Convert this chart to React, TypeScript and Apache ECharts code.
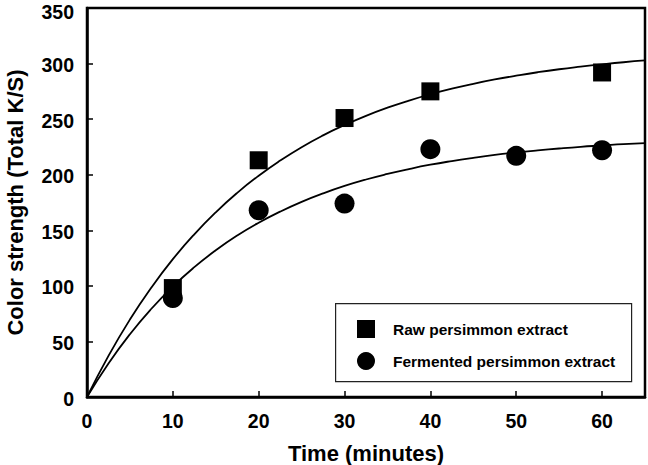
import React, { useEffect, useRef } from "react";
import * as echarts from "echarts";

// Measured color strength at each sampling time
const rawTime = [10, 20, 30, 40, 60];
const rawStrength = [98, 213, 251, 275, 292];
const fermTime = [10, 20, 30, 40, 50, 60];
const fermStrength = [89, 168, 174, 223, 217, 222];

// Fitted kinetic curves, sampled every 2.5 minutes
const fitTime = [
  0, 2.5, 5, 7.5, 10, 12.5, 15, 17.5, 20, 22.5, 25, 27.5, 30, 32.5, 35, 37.5, 40, 42.5, 45, 47.5, 50,
  52.5, 55, 57.5, 60, 62.5, 65,
];
const rawFit = [
  0, 37.0, 69.7, 98.5, 124.0, 146.4, 166.2, 183.7, 199.1, 212.7, 224.8, 235.4, 244.7, 253.0, 260.3,
  266.7, 272.4, 277.4, 281.8, 285.7, 289.1, 292.2, 294.9, 297.2, 299.3, 301.2, 302.8,
];
const fermFit = [
  0, 30.2, 56.5, 79.4, 99.4, 116.8, 132.0, 145.3, 156.8, 166.8, 175.6, 183.2, 189.9, 195.7, 200.7,
  205.1, 209.0, 212.3, 215.2, 217.8, 220.0, 221.9, 223.6, 225.1, 226.3, 227.5, 228.4,
];

const seriesNames = ["Raw persimmon extract", "Fermented persimmon extract"];
const xTitle = "Time (minutes)";
const yTitle = "Color strength (Total K/S)";
const yMax = 350;

const FONT = "'Liberation Sans', Arial, sans-serif";

const zip = (xs: number[], ys: number[]) => xs.map((x, i) => [x, ys[i]]);

export default function App() {
  const ref = useRef<HTMLDivElement>(null);

  useEffect(() => {
    if (!ref.current) return;
    const chart = echarts.init(ref.current, undefined, { renderer: "svg" });

    const labelFont = {
      color: "#000",
      fontFamily: FONT,
      fontWeight: "bold" as const,
      fontSize: 19.5,
    };

    const axisCommon = {
      axisLine: { show: true, lineStyle: { color: "#000", width: 2.5 } },
      axisTick: { show: true, inside: true, length: 6, lineStyle: { color: "#000", width: 1.5 } },
      splitLine: { show: false },
      axisLabel: { ...labelFont, lineHeight: 16 },
      nameLocation: "middle" as const,
      nameTextStyle: {
        color: "#000",
        fontFamily: FONT,
        fontWeight: "bold" as const,
        fontSize: 22,
        lineHeight: 20,
      },
    };

    chart.setOption({
      animation: false,
      backgroundColor: "#fff",
      grid: {
        left: 87,
        right: 3,
        top: 8,
        bottom: 68,
        outerBoundsMode: "none",
        containLabel: false,
        show: true,
        borderColor: "#000",
        borderWidth: 2.5,
        backgroundColor: "transparent",
      },
      xAxis: {
        type: "value",
        min: 0,
        max: 65,
        interval: 10,
        name: xTitle,
        nameGap: 46,
        ...axisCommon,
        axisLabel: {
          ...axisCommon.axisLabel,
          margin: 16,
          formatter: (v: number) => (v > 60 ? "" : String(v)),
        },
      },
      yAxis: {
        type: "value",
        min: 0,
        max: yMax,
        interval: 50,
        name: yTitle,
        nameGap: 62,
        ...axisCommon,
        axisLabel: {
          ...axisCommon.axisLabel,
          margin: 13,
          // keep the topmost label inside the canvas
          formatter: (v: number) => (v === yMax ? `{top|${v}}` : `{n|${v}}`),
          rich: {
            n: { ...labelFont, lineHeight: 16, padding: [3, 0, 0, 0] },
            top: { ...labelFont, lineHeight: 16, padding: [8, 0, 0, 0] },
          },
        },
      },
      legend: {
        orient: "vertical",
        left: 357,
        top: 320,
        padding: 0,
        itemWidth: 18,
        itemHeight: 18,
        itemGap: 14,
        data: seriesNames,
        textStyle: {
          color: "#000",
          fontFamily: FONT,
          fontWeight: "bold",
          fontSize: 15.5,
          padding: [0, 0, 0, 13],
        },
      },
      graphic: [
        {
          type: "rect",
          left: 335,
          top: 303,
          shape: { width: 296, height: 78 },
          style: { fill: "transparent", stroke: "#222", lineWidth: 1.2 },
          silent: true,
          z: 10,
        },
      ],
      series: [
        {
          name: "rawFit",
          type: "line",
          data: zip(fitTime, rawFit),
          smooth: true,
          showSymbol: false,
          lineStyle: { color: "#000", width: 1.8 },
          z: 1,
        },
        {
          name: "fermFit",
          type: "line",
          data: zip(fitTime, fermFit),
          smooth: true,
          showSymbol: false,
          lineStyle: { color: "#000", width: 1.8 },
          z: 1,
        },
        {
          name: seriesNames[0],
          type: "scatter",
          symbol: "rect",
          symbolSize: 18,
          data: zip(rawTime, rawStrength),
          itemStyle: { color: "#000", opacity: 1 },
          z: 3,
        },
        {
          name: seriesNames[1],
          type: "scatter",
          symbol: "circle",
          symbolSize: 20,
          data: zip(fermTime, fermStrength),
          itemStyle: { color: "#000", opacity: 1 },
          z: 3,
        },
      ],
    });

    return () => chart.dispose();
  }, []);

  return <div ref={ref} style={{ width: 648, height: 465, position: "absolute", left: 0, top: 0 }} />;
}
